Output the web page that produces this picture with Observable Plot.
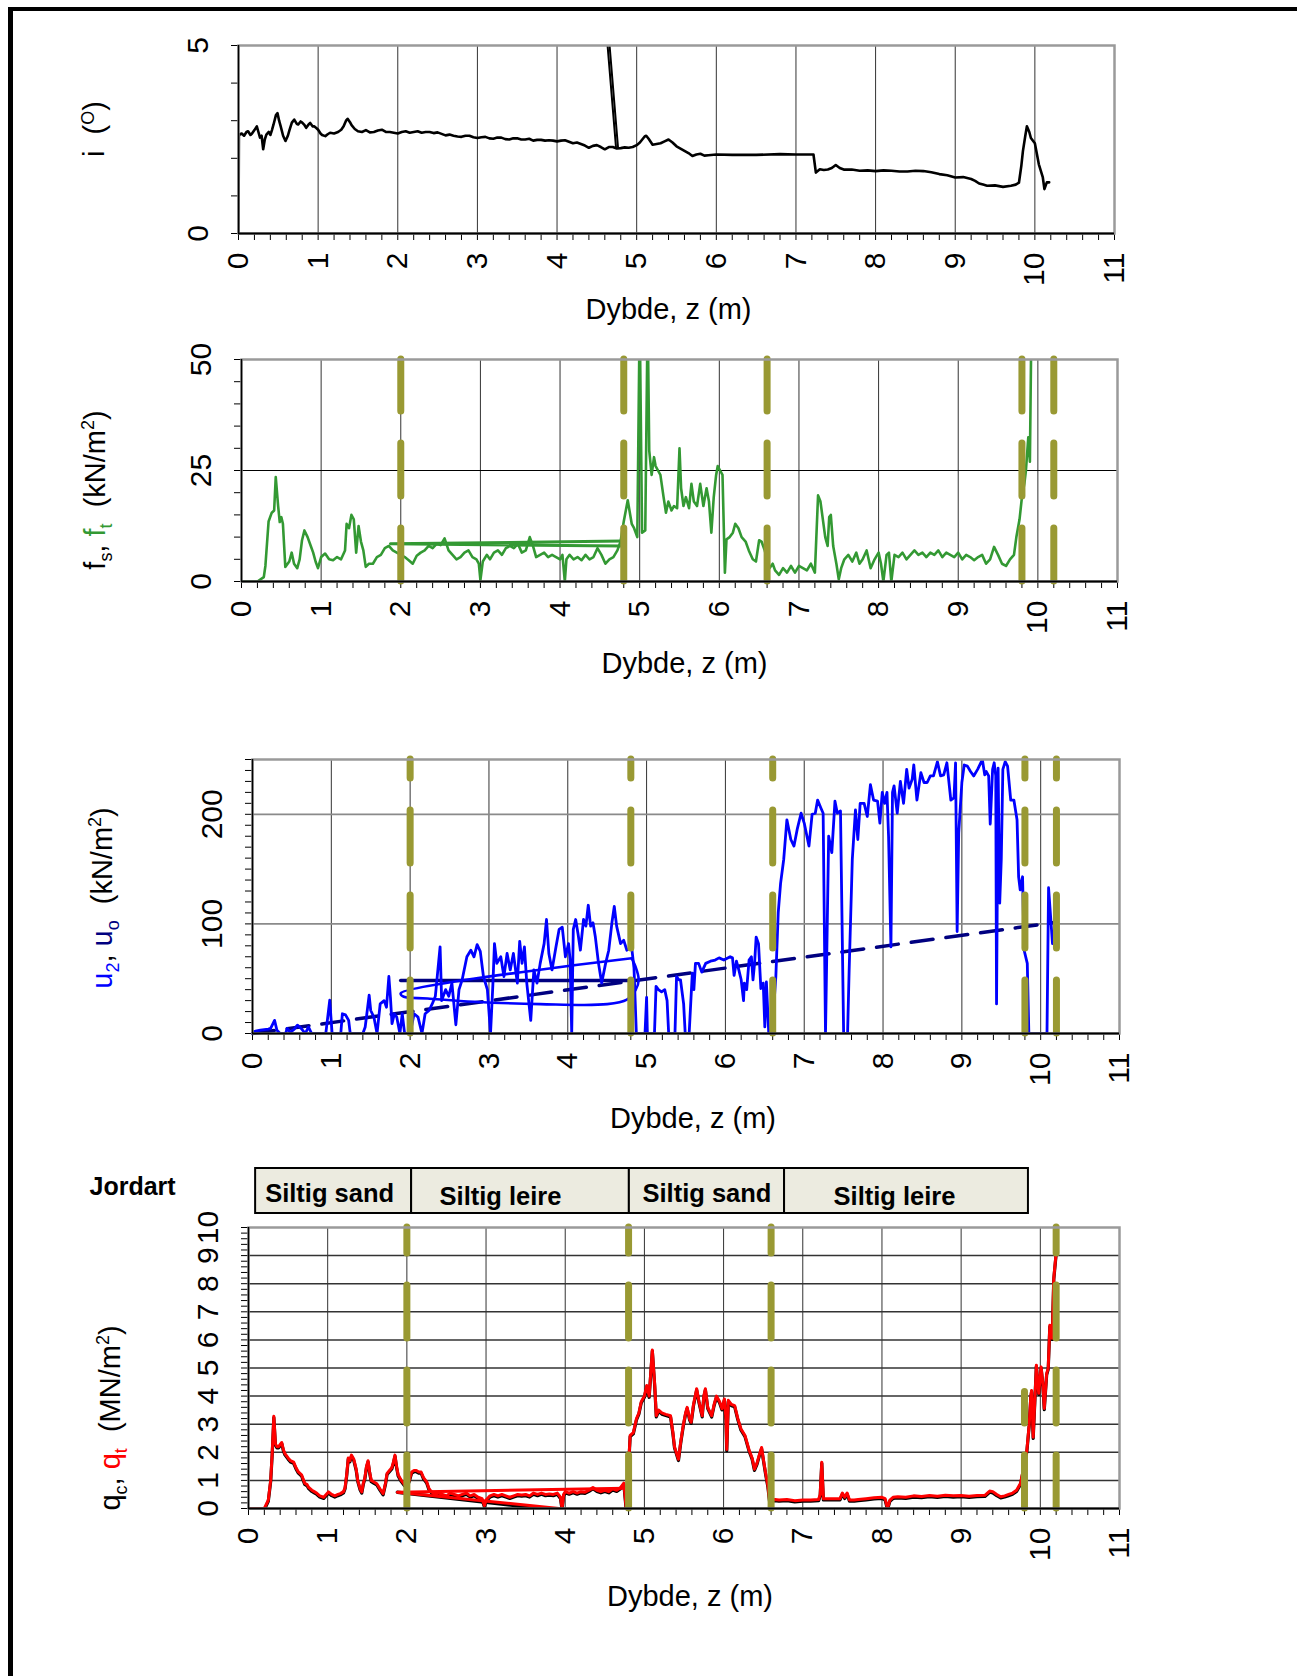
<!DOCTYPE html>
<html><head><meta charset="utf-8">
<script src="https://cdn.jsdelivr.net/npm/d3@7"></script>
<script src="https://cdn.jsdelivr.net/npm/@observablehq/plot@0.6"></script>
<style>
body{margin:0;background:#fff;width:1297px;height:1676px;position:relative;overflow:hidden;font-family:Arial,"Liberation Sans",sans-serif;}
.ytitle{position:absolute;white-space:nowrap;font-size:29px;line-height:1;transform:translate(-50%,-50%) rotate(-90deg);color:#000;}
.ytitle sub,.ytitle sup{font-size:62%;}
#border{position:absolute;left:8px;top:7px;width:1300px;height:1700px;border-top:4px solid #000;border-left:5px solid #000;}
</style></head><body>
<div id="border"></div>
<script>
// ---------------- data ----------------
const xTickLabels = [0,1,2,3,4,5,6,7,8,9,10,11];
const layerDepths = [2.0, 4.8, 6.6, 9.8, 10.2];
const qRuleTops = [10, 10, 10, 4.15, 10];
const soilNames = ["Siltig sand", "Siltig leire", "Siltig sand", "Siltig leire"];
const soilFrom = [0.09, 2.06, 4.81, 6.77];
const soilTo = [2.06, 4.81, 6.77, 9.85];

// inclination i (deg)
const iProfile = [[0,0],[0.005,2.62],[0.04,2.66],[0.07,2.6],[0.1,2.7],[0.12,2.72],[0.15,2.62],[0.17,2.66],[0.2,2.75],[0.23,2.85],[0.25,2.7],[0.27,2.55],[0.29,2.6],[0.31,2.24],[0.33,2.5],[0.35,2.63],[0.38,2.7],[0.4,2.62],[0.42,2.75],[0.44,2.9],[0.47,3.15],[0.49,3.2],[0.51,3.0],[0.53,2.85],[0.56,2.6],[0.59,2.46],[0.62,2.6],[0.64,2.75],[0.67,2.95],[0.7,3.03],[0.73,2.92],[0.75,2.9],[0.78,2.98],[0.8,2.95],[0.83,2.88],[0.85,2.81],[0.88,2.9],[0.9,2.94],[0.93,2.85],[0.95,2.85],[0.98,2.8],[1.0,2.76],[1.03,2.66],[1.05,2.62],[1.09,2.59],[1.12,2.64],[1.15,2.68],[1.2,2.66],[1.25,2.7],[1.29,2.76],[1.32,2.85],[1.35,3.0],[1.37,3.05],[1.4,2.96],[1.42,2.88],[1.46,2.78],[1.5,2.72],[1.55,2.7],[1.6,2.75],[1.65,2.69],[1.7,2.7],[1.75,2.74],[1.8,2.76],[1.85,2.7],[1.9,2.7],[1.95,2.68],[2.0,2.66],[2.05,2.7],[2.1,2.72],[2.15,2.68],[2.2,2.7],[2.25,2.72],[2.3,2.68],[2.35,2.7],[2.4,2.7],[2.45,2.67],[2.5,2.69],[2.55,2.65],[2.6,2.61],[2.65,2.63],[2.7,2.6],[2.75,2.58],[2.8,2.57],[2.85,2.6],[2.9,2.6],[2.95,2.56],[3.0,2.54],[3.05,2.56],[3.1,2.57],[3.15,2.53],[3.2,2.52],[3.25,2.55],[3.3,2.55],[3.35,2.51],[3.4,2.5],[3.45,2.53],[3.5,2.53],[3.55,2.5],[3.6,2.5],[3.65,2.52],[3.7,2.47],[3.75,2.49],[3.8,2.49],[3.85,2.47],[3.9,2.48],[3.95,2.47],[4.0,2.45],[4.05,2.47],[4.1,2.48],[4.15,2.44],[4.2,2.4],[4.25,2.42],[4.3,2.38],[4.35,2.34],[4.4,2.28],[4.45,2.33],[4.5,2.35],[4.55,2.3],[4.6,2.24],[4.65,2.3],[4.7,2.3],[4.75,2.26],[4.8,2.27],[4.85,2.29],[4.9,2.28],[4.95,2.3],[5.0,2.35],[5.04,2.42],[5.07,2.5],[5.1,2.58],[5.12,2.6],[5.15,2.52],[5.2,2.36],[5.25,2.38],[5.3,2.4],[5.35,2.45],[5.4,2.5],[5.45,2.42],[5.5,2.32],[5.55,2.26],[5.6,2.2],[5.65,2.14],[5.7,2.06],[5.75,2.1],[5.8,2.12],[5.85,2.07],[5.9,2.08],[6.0,2.1],[6.2,2.09],[6.5,2.09],[6.8,2.11],[7.0,2.1],[7.22,2.1],[7.25,1.62],[7.3,1.71],[7.35,1.69],[7.4,1.7],[7.45,1.74],[7.5,1.82],[7.55,1.74],[7.6,1.7],[7.7,1.7],[7.8,1.67],[7.9,1.68],[8.0,1.66],[8.1,1.68],[8.2,1.67],[8.3,1.65],[8.4,1.65],[8.5,1.67],[8.6,1.66],[8.7,1.63],[8.8,1.58],[8.9,1.55],[9.0,1.49],[9.1,1.5],[9.2,1.45],[9.25,1.4],[9.3,1.33],[9.35,1.3],[9.4,1.27],[9.5,1.28],[9.6,1.24],[9.7,1.27],[9.76,1.3],[9.8,1.35],[9.83,1.8],[9.85,2.19],[9.88,2.6],[9.9,2.85],[9.93,2.7],[9.95,2.54],[10.0,2.4],[10.05,1.84],[10.1,1.49],[10.12,1.18],[10.15,1.36],[10.18,1.36]];
const iReturnA = [[4.615,5.5],[4.74,2.3]];
const iReturnB = [[4.64,5.5],[4.765,2.3]];

// sleeve friction f (kN/m2)
const fProfile = [[0,0],[0.2,0],[0.28,1],[0.3,3.5],[0.34,13.5],[0.38,15.5],[0.41,16],[0.43,23.5],[0.46,17],[0.48,13.4],[0.5,14.5],[0.52,13],[0.55,3.3],[0.6,4.5],[0.63,6.5],[0.66,4],[0.7,3],[0.73,5],[0.76,9.3],[0.79,11.5],[0.83,10],[0.87,8],[0.9,6.5],[0.93,4.5],[0.96,3],[1.0,5.5],[1.05,6.3],[1.1,5],[1.15,4.8],[1.2,5.5],[1.25,5],[1.3,7],[1.32,13],[1.35,12],[1.38,15],[1.41,14],[1.44,6.5],[1.47,12.5],[1.5,9],[1.53,7],[1.56,3.3],[1.6,4],[1.65,4],[1.7,5.5],[1.75,6],[1.8,7.5],[1.85,8],[1.9,7],[1.95,6.5],[2.0,6],[2.05,5.5],[2.1,4.8],[2.15,4],[2.2,5.8],[2.25,6.5],[2.3,7],[2.35,8],[2.4,7.5],[2.45,8.5],[2.5,8.2],[2.55,9.7],[2.6,7],[2.65,6],[2.7,5],[2.75,5.5],[2.8,6.5],[2.85,7],[2.9,5.5],[2.95,5],[2.98,4],[3.0,0.3],[3.03,4.5],[3.08,6],[3.12,5],[3.17,6.5],[3.22,7],[3.27,6],[3.32,7.5],[3.37,8],[3.42,7.5],[3.47,8.5],[3.52,6.5],[3.57,7],[3.62,10],[3.66,8],[3.7,5.5],[3.75,6],[3.8,6.5],[3.85,5.5],[3.9,6],[3.95,5.5],[4.0,5],[4.03,6],[4.06,0],[4.08,5],[4.12,6],[4.17,5],[4.22,5.5],[4.27,4.8],[4.32,6],[4.37,5],[4.42,5.5],[4.47,7.5],[4.52,6],[4.57,4],[4.62,5],[4.67,5.5],[4.72,7],[4.76,9],[4.8,13.5],[4.85,18.3],[4.9,13],[4.93,12],[4.97,10],[5.0,60],[5.03,11],[5.07,11.5],[5.1,60],[5.12,29.5],[5.15,24],[5.18,28],[5.2,26],[5.23,25],[5.26,24],[5.3,19],[5.33,15.5],[5.36,18],[5.4,16],[5.43,17],[5.47,16.5],[5.5,30],[5.52,21],[5.55,17],[5.58,19],[5.62,16.5],[5.65,22],[5.68,18],[5.72,17],[5.76,22],[5.8,17],[5.84,21],[5.87,18],[5.9,11],[5.93,19],[5.96,24],[5.98,26],[6.01,25],[6.04,24],[6.07,2],[6.09,9.5],[6.13,10],[6.17,11],[6.2,13],[6.24,12],[6.28,10],[6.33,9],[6.37,7],[6.42,5],[6.46,4.5],[6.5,9.3],[6.53,9],[6.57,7],[6.6,5],[6.63,3],[6.67,4],[6.7,2.5],[6.75,1.5],[6.8,3],[6.85,2],[6.9,3.5],[6.95,2],[7.0,3.5],[7.05,3],[7.1,2.5],[7.15,4],[7.2,2],[7.24,19.4],[7.27,18],[7.3,14],[7.33,10],[7.36,8],[7.38,14.5],[7.4,15],[7.43,8],[7.47,4],[7.5,0.5],[7.53,3],[7.57,5],[7.62,6],[7.67,4.5],[7.72,6.5],[7.76,4],[7.8,5],[7.85,7],[7.9,3],[7.95,5],[8.0,6.5],[8.03,4],[8.06,0],[8.1,6],[8.13,6.5],[8.16,0],[8.2,6],[8.25,5.5],[8.3,6.5],[8.35,5],[8.4,6],[8.45,7],[8.5,6],[8.55,6.5],[8.6,5.5],[8.65,6.5],[8.7,6],[8.75,7],[8.8,5.5],[8.85,6.5],[8.9,6],[8.95,5.5],[9.0,6.5],[9.05,5],[9.1,6],[9.15,5.5],[9.2,4.8],[9.25,5.5],[9.3,6],[9.35,4],[9.4,5],[9.45,7.8],[9.5,6],[9.55,4],[9.6,3.5],[9.65,5],[9.7,6],[9.73,10],[9.77,14],[9.8,19],[9.83,22],[9.85,25],[9.88,32.5],[9.9,27],[9.92,60],[10.15,60]];
const fReturn = [[4.78,8.0],[1.87,8.5],[4.78,9.1]];

// pore pressure u2 and hydrostatic u0 (kN/m2)
const uProfile = [[0,1.5],[0.1,3],[0.2,4],[0.23,4.6],[0.28,12],[0.31,3],[0.35,0],[0.42,0],[0.44,4.6],[0.48,1],[0.53,4],[0.57,7.6],[0.62,4.5],[0.67,0],[0.71,6],[0.75,0],[0.93,0],[0.98,30.5],[1.01,0],[1.12,0],[1.14,18],[1.18,17],[1.22,12],[1.24,0],[1.4,0],[1.43,6],[1.48,35],[1.5,21],[1.54,15],[1.58,0],[1.62,27],[1.67,30],[1.7,24],[1.73,52],[1.75,33],[1.77,9],[1.8,18],[1.83,15],[1.87,0],[1.9,18],[1.93,0],[2.0,0],[2.05,18],[2.1,15],[2.15,0],[2.19,18],[2.24,21],[2.28,27],[2.32,34],[2.38,79],[2.4,30],[2.45,40],[2.49,34],[2.53,46],[2.58,8],[2.62,40],[2.66,49],[2.72,70],[2.77,76],[2.81,70],[2.85,81],[2.89,75],[2.93,52],[2.98,40],[3.02,0],[3.05,45],[3.07,82],[3.1,64],[3.15,70],[3.19,52],[3.23,73],[3.27,58],[3.31,73],[3.36,46],[3.39,84],[3.42,64],[3.45,79],[3.48,46],[3.53,12],[3.57,58],[3.61,46],[3.65,64],[3.7,82],[3.73,104],[3.76,73],[3.8,58],[3.85,79],[3.89,95],[3.93,97],[3.97,70],[4.01,82],[4.03,67],[4.05,0],[4.07,95],[4.1,104],[4.13,91],[4.16,76],[4.2,104],[4.23,98],[4.26,117],[4.29,98],[4.32,101],[4.35,88],[4.39,64],[4.43,46],[4.48,64],[4.52,76],[4.56,101],[4.59,116],[4.62,98],[4.67,82],[4.71,85],[4.75,76],[4.81,79],[4.84,60],[4.87,0],[4.98,0],[5.0,33],[5.01,0],[5.1,0],[5.12,43],[5.15,40],[5.19,38],[5.23,40],[5.26,30],[5.28,0],[5.36,0],[5.38,52],[5.41,49],[5.43,49],[5.47,27],[5.49,0],[5.54,0],[5.58,55],[5.6,40],[5.62,64],[5.66,64],[5.7,56],[5.75,64],[5.81,66],[5.87,67],[5.92,69],[5.98,67],[6.06,70],[6.09,69],[6.11,53],[6.14,66],[6.17,58],[6.2,49],[6.23,30],[6.24,46],[6.27,40],[6.3,67],[6.33,70],[6.35,49],[6.37,64],[6.39,88],[6.42,82],[6.45,41],[6.48,46],[6.5,6],[6.52,47],[6.55,0],[6.59,0],[6.64,52],[6.67,110],[6.7,137],[6.74,159],[6.78,195],[6.83,177],[6.87,171],[6.91,186],[6.96,201],[7.0,192],[7.06,171],[7.1,200],[7.14,201],[7.17,213],[7.21,206],[7.24,201],[7.27,0],[7.31,180],[7.35,165],[7.39,212],[7.42,201],[7.46,203],[7.5,0],[7.55,0],[7.57,58],[7.61,159],[7.65,204],[7.68,177],[7.71,210],[7.76,210],[7.8,198],[7.84,227],[7.88,213],[7.93,212],[7.96,192],[7.99,220],[8.02,210],[8.05,220],[8.07,180],[8.1,79],[8.12,220],[8.14,226],[8.18,201],[8.22,230],[8.26,210],[8.3,241],[8.33,224],[8.37,232],[8.39,245],[8.43,213],[8.48,238],[8.52,229],[8.56,229],[8.6,235],[8.64,235],[8.69,248],[8.73,235],[8.77,236],[8.81,247],[8.86,213],[8.9,215],[8.92,247],[8.94,93],[8.96,183],[9.0,229],[9.03,245],[9.07,244],[9.11,239],[9.15,235],[9.2,241],[9.24,247],[9.26,250],[9.29,236],[9.31,239],[9.34,235],[9.36,191],[9.39,241],[9.41,247],[9.43,235],[9.44,27],[9.46,242],[9.48,119],[9.5,159],[9.52,241],[9.55,248],[9.58,244],[9.62,213],[9.66,213],[9.7,195],[9.72,143],[9.74,131],[9.77,143],[9.79,76],[9.83,64],[9.85,0],[10.08,0],[10.1,133],[10.15,82]];
const uLoop = [[4.81,68.6],[1.88,36.6],[1.92,33.5],[2.22,32],[2.81,29],[3.65,26.8],[4.5,26.8],[4.75,31],[4.86,39.6],[4.9,48.8],[4.86,61],[4.81,68.6]];
const u0Return = [[1.88,48.3],[4.81,48.3]];
const u0Hydro = [[0,0],[10.15,101]];

// cone resistance qt / qc (MN/m2)
const qtProfile = [[0,0],[0.2,0],[0.25,0.3],[0.28,1.0],[0.3,2.0],[0.32,3.28],[0.34,2.3],[0.36,2.2],[0.38,2.2],[0.42,2.35],[0.44,2.1],[0.46,1.95],[0.5,1.8],[0.53,1.7],[0.57,1.65],[0.6,1.45],[0.63,1.3],[0.67,1.2],[0.71,0.9],[0.74,0.85],[0.76,0.75],[0.8,0.65],[0.83,0.6],[0.86,0.55],[0.9,0.45],[0.95,0.4],[1.01,0.59],[1.05,0.5],[1.09,0.45],[1.13,0.5],[1.16,0.53],[1.2,0.6],[1.22,0.75],[1.24,1.2],[1.26,1.8],[1.28,1.7],[1.3,1.9],[1.33,1.75],[1.36,1.4],[1.38,1.0],[1.41,0.7],[1.43,0.59],[1.45,0.9],[1.47,1.1],[1.49,1.5],[1.51,1.7],[1.53,1.3],[1.55,1.0],[1.58,0.95],[1.62,0.88],[1.66,0.7],[1.7,0.53],[1.73,0.9],[1.75,1.25],[1.78,1.35],[1.81,1.45],[1.83,1.65],[1.85,1.9],[1.87,1.5],[1.89,1.2],[1.93,1.0],[1.97,0.85],[2.0,0.8],[2.03,1.0],[2.06,1.3],[2.09,1.35],[2.12,1.35],[2.15,1.3],[2.18,1.3],[2.21,1.1],[2.25,0.95],[2.28,0.7],[2.31,0.6],[2.35,0.5],[2.4,0.55],[2.45,0.5],[2.5,0.45],[2.55,0.55],[2.6,0.5],[2.65,0.45],[2.7,0.5],[2.75,0.55],[2.8,0.45],[2.85,0.5],[2.9,0.4],[2.95,0.35],[2.98,0.1],[3.0,0.3],[3.05,0.45],[3.1,0.5],[3.15,0.45],[3.2,0.5],[3.25,0.45],[3.3,0.4],[3.35,0.45],[3.4,0.5],[3.45,0.48],[3.5,0.5],[3.55,0.45],[3.6,0.55],[3.65,0.5],[3.7,0.55],[3.75,0.5],[3.8,0.52],[3.85,0.5],[3.9,0.55],[3.94,0.4],[3.96,0.0],[3.98,0.5],[4.0,0.6],[4.05,0.55],[4.1,0.6],[4.15,0.55],[4.2,0.6],[4.25,0.58],[4.3,0.65],[4.35,0.75],[4.4,0.65],[4.45,0.6],[4.5,0.65],[4.55,0.6],[4.6,0.7],[4.65,0.65],[4.7,0.75],[4.74,0.9],[4.77,0.0],[4.8,1.5],[4.82,2.6],[4.86,2.7],[4.9,3.2],[4.93,3.4],[4.96,3.8],[5.0,4.0],[5.03,4.38],[5.06,4.0],[5.1,5.64],[5.13,4.4],[5.15,3.3],[5.18,3.5],[5.22,3.4],[5.27,3.35],[5.33,3.3],[5.36,2.7],[5.38,2.2],[5.43,1.75],[5.46,2.4],[5.49,2.95],[5.52,3.4],[5.54,3.6],[5.57,3.2],[5.59,3.07],[5.62,3.7],[5.66,4.26],[5.69,3.8],[5.73,3.3],[5.75,4.0],[5.77,4.26],[5.8,3.6],[5.85,3.3],[5.88,3.7],[5.91,4.0],[5.95,3.8],[5.98,3.55],[6.01,3.9],[6.03,3.2],[6.04,2.1],[6.06,3.85],[6.1,3.7],[6.14,3.66],[6.18,3.2],[6.22,2.83],[6.27,2.6],[6.32,2.1],[6.36,1.8],[6.39,1.4],[6.42,1.6],[6.45,1.9],[6.48,2.17],[6.5,1.8],[6.53,1.27],[6.56,0.8],[6.58,0.3],[6.65,0.32],[6.7,0.3],[6.8,0.32],[6.9,0.28],[7.0,0.3],[7.1,0.3],[7.2,0.32],[7.22,0.5],[7.24,1.65],[7.26,0.35],[7.3,0.35],[7.4,0.35],[7.47,0.35],[7.5,0.55],[7.53,0.4],[7.56,0.55],[7.59,0.3],[7.65,0.3],[7.7,0.32],[7.8,0.35],[7.9,0.38],[8.0,0.4],[8.04,0.35],[8.07,0.0],[8.1,0.3],[8.14,0.4],[8.2,0.42],[8.3,0.4],[8.4,0.45],[8.5,0.43],[8.6,0.46],[8.7,0.44],[8.8,0.47],[8.9,0.45],[9.0,0.46],[9.1,0.44],[9.2,0.46],[9.3,0.47],[9.36,0.62],[9.4,0.6],[9.45,0.5],[9.5,0.42],[9.55,0.45],[9.6,0.5],[9.65,0.55],[9.7,0.65],[9.75,0.9],[9.8,1.6],[9.83,2.07],[9.86,3.0],[9.88,4.0],[9.89,4.2],[9.91,2.54],[9.93,3.8],[9.95,5.1],[9.98,4.1],[10.01,5.04],[10.03,4.5],[10.05,3.56],[10.08,4.8],[10.1,5.0],[10.12,6.52],[10.15,6.06],[10.17,8.2],[10.2,9.1],[10.21,10.5]];
const qtReturn = [[4.76,0.72],[1.88,0.58],[3.92,0.0]];
const qcReturn = [[1.88,0.58],[3.7,0.0]];

// ---------------- drawing ----------------
const FONT = 'Arial, "Liberation Sans", sans-serif';
const OLIVE = "#999933";
const xMinor = d3.range(0, 11.001, 0.2).map(v => +v.toFixed(2));
const X = d => d[0], Y = d => d[1];

function panel(o) {
  const mt = o.frameTop - o.top;
  const mb = o.titleBaseline + 14 - o.frameBottom;
  const h = mt + (o.frameBottom - o.frameTop) + mb;
  const svg = Plot.plot({
    width: 1297, height: h,
    marginTop: mt, marginBottom: mb, marginLeft: o.x0, marginRight: 1297 - o.x11,
    style: {background: "transparent", overflow: "visible", fontFamily: FONT},
    x: {domain: [0, 11], ticks: xMinor, tickSize: 7, tickFormat: () => "", label: null},
    y: {domain: o.yDomain, ticks: o.yMinor, tickSize: 7, tickFormat: () => "", label: null},
    marks: [
      Plot.ruleX([1,2,3,4,5,6,7,8,9,10], {stroke: "#333", strokeWidth: 1}),
      Plot.ruleY(o.yGrid, {stroke: o.gridColor, strokeWidth: o.gridWidth}),
      ...o.marks,
      Plot.frame({stroke: "#9a9a9a", strokeWidth: 2.5}),
      Plot.ruleX([0], {stroke: "#000", strokeWidth: 1.5}),
      Plot.ruleY([o.yDomain[0]], {stroke: "#000", strokeWidth: 2}),
      Plot.text(xTickLabels, {x: d => d, text: d => String(d), frameAnchor: "bottom", dy: 19, rotate: -90, textAnchor: "end", lineAnchor: "middle", fontSize: 30, fill: "#000"}),
      Plot.text(o.yLabels, {y: d => d, text: d => String(d), frameAnchor: "left", dx: -31, rotate: -90, textAnchor: "middle", lineAnchor: "bottom", fontSize: 30, fill: "#000"}),
      Plot.text(["Dybde, z (m)"], {text: d => d, frameAnchor: "bottom", dx: o.titleDx, dy: o.titleBaseline - o.frameBottom, lineAnchor: "bottom", fontSize: 29, fill: "#000"})
    ]
  });
  svg.style.position = "absolute";
  svg.style.left = "0px";
  svg.style.top = o.top + "px";
  document.body.appendChild(svg);
}

function olive(tops) {
  return Plot.ruleX(layerDepths, {y1: () => 0, y2: (d, i) => tops[i], stroke: OLIVE, strokeWidth: 7, strokeDasharray: "53,32", strokeLinecap: "round"});
}

// Panel 1: inclination
panel({
  top: 15, frameTop: 45, frameBottom: 233, x0: 238, x11: 1114, titleBaseline: 318, titleDx: -8,
  yDomain: [0, 5], yMinor: [0,1,2,3,4,5], yLabels: [0, 5], yGrid: [], gridColor: "#000", gridWidth: 1,
  marks: [
    Plot.line(iProfile, {x: X, y: Y, stroke: "#000", strokeWidth: 2.6, clip: true}),
    Plot.line(iReturnA, {x: X, y: Y, stroke: "#000", strokeWidth: 2, clip: true}),
    Plot.line(iReturnB, {x: X, y: Y, stroke: "#000", strokeWidth: 2, clip: true})
  ]
});

// Panel 2: sleeve friction
panel({
  top: 330, frameTop: 359, frameBottom: 581, x0: 241, x11: 1117, titleBaseline: 672, titleDx: 5,
  yDomain: [0, 50], yMinor: d3.range(0, 51, 5), yLabels: [0, 25, 50], yGrid: [25], gridColor: "#000", gridWidth: 1.2,
  marks: [
    Plot.line(fProfile, {x: X, y: Y, stroke: "#339933", strokeWidth: 2.6, clip: true}),
    Plot.line(fReturn, {x: X, y: Y, stroke: "#339933", strokeWidth: 3, clip: true}),
    olive([50, 50, 50, 50, 50])
  ]
});

// Panel 3: pore pressure
panel({
  top: 730, frameTop: 759, frameBottom: 1033, x0: 252, x11: 1119, titleBaseline: 1127, titleDx: 7,
  yDomain: [0, 250], yMinor: d3.range(0, 251, 10), yLabels: [0, 100, 200], yGrid: [100, 200], gridColor: "#8a8a8a", gridWidth: 1.8,
  marks: [
    Plot.line(u0Hydro, {x: X, y: Y, stroke: "#000080", strokeWidth: 3.5, strokeDasharray: "22,13"}),
    Plot.line(u0Return, {x: X, y: Y, stroke: "#000080", strokeWidth: 3.5}),
    Plot.line(uLoop, {x: X, y: Y, stroke: "#0000ff", strokeWidth: 2.6, curve: "catmull-rom", clip: true}),
    Plot.line(uProfile, {x: X, y: Y, stroke: "#0000ff", strokeWidth: 2.8, clip: true}),
    olive([250, 250, 250, 250, 250])
  ]
});

// Soil layer bar ("Jordart")
{
  const labelShift = [-4, -20, 0, -12];
  const labelDrop = [3, 6, 3, 6];
  const svg = Plot.plot({
    width: 1297, height: 61, marginTop: 8, marginBottom: 8, marginLeft: 248, marginRight: 1297 - 1119,
    style: {background: "transparent", overflow: "visible", fontFamily: FONT},
    x: {domain: [0, 11], axis: null}, y: {domain: [0, 1], axis: null},
    marks: [
      Plot.rect(soilNames, {x1: (d, i) => soilFrom[i], x2: (d, i) => soilTo[i], y1: () => 0, y2: () => 1, fill: "#ecebe0", stroke: "#000", strokeWidth: 2}),
      ...soilNames.map((name, i) => Plot.text([name], {x: () => (soilFrom[i] + soilTo[i]) / 2, y: () => 0.5, text: d => d, dx: labelShift[i], dy: labelDrop[i], fontSize: 25.5, fontWeight: "bold", fill: "#000"})),
      Plot.text(["Jordart"], {text: d => d, frameAnchor: "left", dx: -159, dy: -4, textAnchor: "start", fontSize: 25, fontWeight: "bold", fill: "#000"})
    ]
  });
  svg.style.position = "absolute"; svg.style.left = "0px"; svg.style.top = "1160px";
  document.body.appendChild(svg);
}

// Panel 4: cone resistance
panel({
  top: 1200, frameTop: 1227, frameBottom: 1508, x0: 248, x11: 1119, titleBaseline: 1605, titleDx: 6,
  yDomain: [0, 10], yMinor: xMinor.filter(v => v <= 10), yLabels: [0,1,2,3,4,5,6,7,8,9,10], yGrid: [1,2,3,4,5,6,7,8,9], gridColor: "#333", gridWidth: 1.5,
  marks: [
    Plot.line(qcReturn, {x: X, y: Y, stroke: "#000", strokeWidth: 3.5, clip: true}),
    Plot.line(qtProfile, {x: X, y: Y, stroke: "#000", strokeWidth: 3.2, dy: 1.2, clip: true}),
    Plot.line(qtReturn, {x: X, y: Y, stroke: "#ff0000", strokeWidth: 3, clip: true}),
    Plot.line(qtProfile, {x: X, y: Y, stroke: "#ff0000", strokeWidth: 3, clip: true}),
    olive(qRuleTops)
  ]
});

// Y-axis titles (mixed colours)
const titles = [
  {html: 'i&nbsp;&nbsp;(<sup>O</sup>)', x: 94, y: 129},
  {html: 'f<sub>s</sub>, <span style="color:#339933">f<sub>t</sub></span>&nbsp;&nbsp;(kN/m<sup>2</sup>)', x: 97, y: 490},
  {html: '<span style="color:#0000ff">u<sub>2</sub></span>, <span style="color:#000080">u<sub>o</sub></span>&nbsp;&nbsp;(kN/m<sup>2</sup>)', x: 104, y: 898},
  {html: 'q<sub>c</sub>, <span style="color:#ff0000">q<sub>t</sub></span>&nbsp;&nbsp;(MN/m<sup>2</sup>)', x: 112, y: 1418}
];
for (const t of titles) {
  const d = document.createElement("div");
  d.className = "ytitle";
  d.innerHTML = t.html;
  d.style.left = t.x + "px";
  d.style.top = t.y + "px";
  document.body.appendChild(d);
}
</script>
</body></html>
